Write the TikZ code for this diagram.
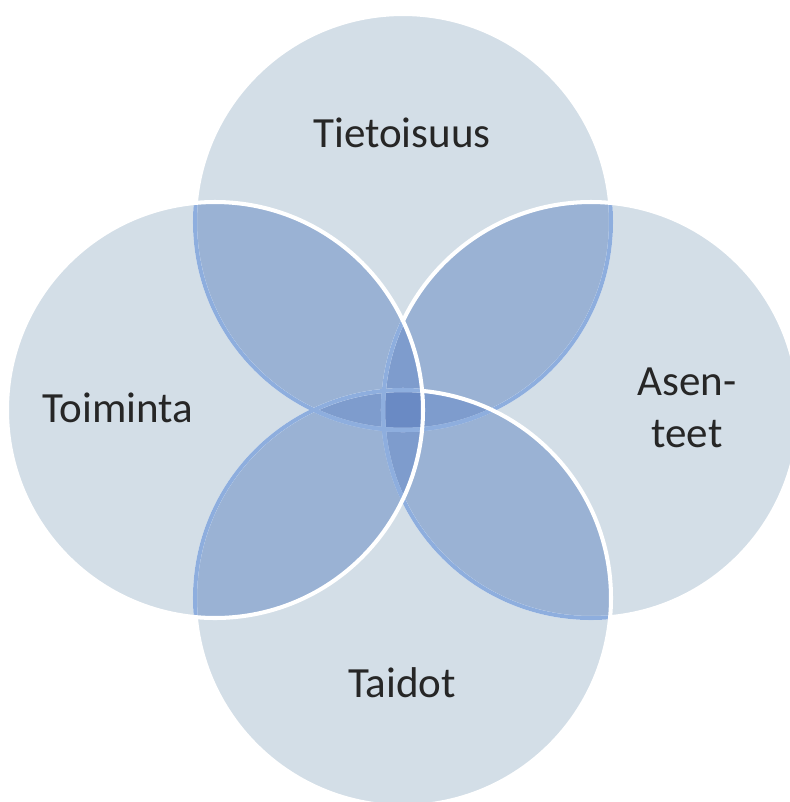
\documentclass[tikz,border=0pt]{standalone}
\usepackage{fontspec}
\setmainfont{Carlito}
\definecolor{vnone}{RGB}{211, 222, 231}
\definecolor{vntwo}{RGB}{154, 178, 212}
\definecolor{vnthree}{RGB}{126, 156, 205}
\definecolor{vnfour}{RGB}{106, 138, 196}
\definecolor{vnrim}{RGB}{142, 174, 222}
\usetikzlibrary{calc}

\begin{document}
\begin{tikzpicture}[x=0.02cm, y=-0.02cm,
    lbl/.style={font=\fontsize{24.5}{29.6}\selectfont, text=black!85, inner sep=0pt},
    edge/.style={draw=white, line width=2.3pt},
    rim/.style={draw=vnrim, line width=2.3pt}]
  \useasboundingbox (0,0) rectangle (790,802);
  \clip (0,0) rectangle (790,802);
  \def\rad{208}
  \coordinate (ct) at (403,222);
  \coordinate (cr) at (591,410);
  \coordinate (cb) at (403,598);
  \coordinate (cl) at (215,410);

  % plain circles
  \foreach \c in {ct,cr,cb,cl}
    \fill[vnone] (\c) circle[radius=\rad];
  % two overlap
  \foreach \a/\b in {ct/cr, ct/cl, cb/cr, cb/cl, ct/cb, cl/cr} {
    \begin{scope}
      \clip (\a) circle[radius=\rad];
      \fill[vntwo] (\b) circle[radius=\rad];
    \end{scope}
  }
  % three overlap
  \foreach \a/\b/\d in {ct/cl/cr, cb/cl/cr, ct/cb/cl, ct/cb/cr} {
    \begin{scope}
      \clip (\a) circle[radius=\rad];
      \clip (\b) circle[radius=\rad];
      \fill[vnthree] (\d) circle[radius=\rad];
    \end{scope}
  }
  % middle
  \begin{scope}
    \clip (ct) circle[radius=\rad];
    \clip (cb) circle[radius=\rad];
    \clip (cl) circle[radius=\rad];
    \fill[vnfour] (cr) circle[radius=\rad];
  \end{scope}

  % borders, top -> right -> bottom -> left
  \draw[edge] (ct) circle[radius=\rad];
  \begin{scope}
    \clip (cr) circle[radius=\rad];
    \draw[rim] (ct) circle[radius=\rad];
  \end{scope}
  \draw[edge] (cr) circle[radius=\rad];
  \begin{scope}
    \clip (cb) circle[radius=\rad];
    \draw[rim] (ct) circle[radius=\rad] (cr) circle[radius=\rad];
  \end{scope}
  \draw[edge] (cb) circle[radius=\rad];
  \begin{scope}
    \clip (cl) circle[radius=\rad];
    \draw[rim] (ct) circle[radius=\rad] (cr) circle[radius=\rad] (cb) circle[radius=\rad];
  \end{scope}
  \draw[edge] (cl) circle[radius=\rad];

  \node[lbl, anchor=base] (tiet) at (402,147) {Tietoisuus};
  \node[lbl, anchor=base] (toim) at (118,422) {Toiminta};
  \node[lbl, align=center] (asen) at (687,408) {Asen-\\teet};
  \node[lbl, anchor=base] (taid) at (402,697) {Taidot};
\end{tikzpicture}
\end{document}
